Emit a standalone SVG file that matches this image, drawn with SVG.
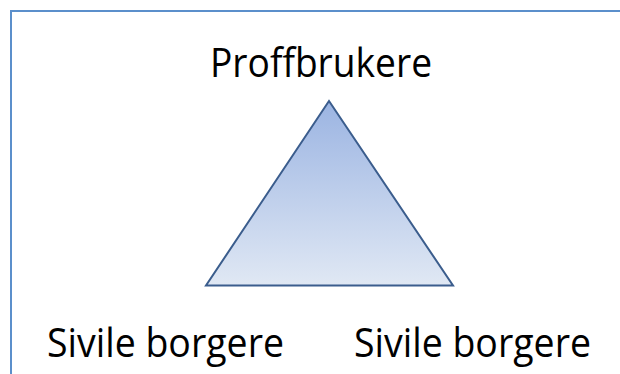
<svg xmlns="http://www.w3.org/2000/svg" width="620" height="374" viewBox="0 0 620 374">
<defs>
<linearGradient id="g" x1="0" y1="0" x2="0" y2="1">
<stop offset="0" stop-color="#9bb4e2"/>
<stop offset="1" stop-color="#e0e8f4"/>
</linearGradient>
<style>
.t{font-family:"Open Sans","Liberation Sans",sans-serif;font-size:40px;fill:#000}
</style>
</defs>
<rect width="620" height="374" fill="#fff"/>
<path d="M11 374 V11 H620" fill="none" stroke="#5b8fcb" stroke-width="2"/>
<g id="triangle">
<polygon points="329,101 206,285.5 453,285.5" fill="url(#g)" stroke="#3b5d8d" stroke-width="2" stroke-linejoin="miter"/>
</g>
<g id="top">
<text class="t" x="210" y="77" textLength="222" lengthAdjust="spacingAndGlyphs">Proffbrukere</text>
</g>
<g id="left">
<text class="t" x="47" y="357" textLength="237" lengthAdjust="spacingAndGlyphs">Sivile borgere</text>
</g>
<g id="right">
<text class="t" x="354" y="357" textLength="237" lengthAdjust="spacingAndGlyphs">Sivile borgere</text>
</g>
</svg>
